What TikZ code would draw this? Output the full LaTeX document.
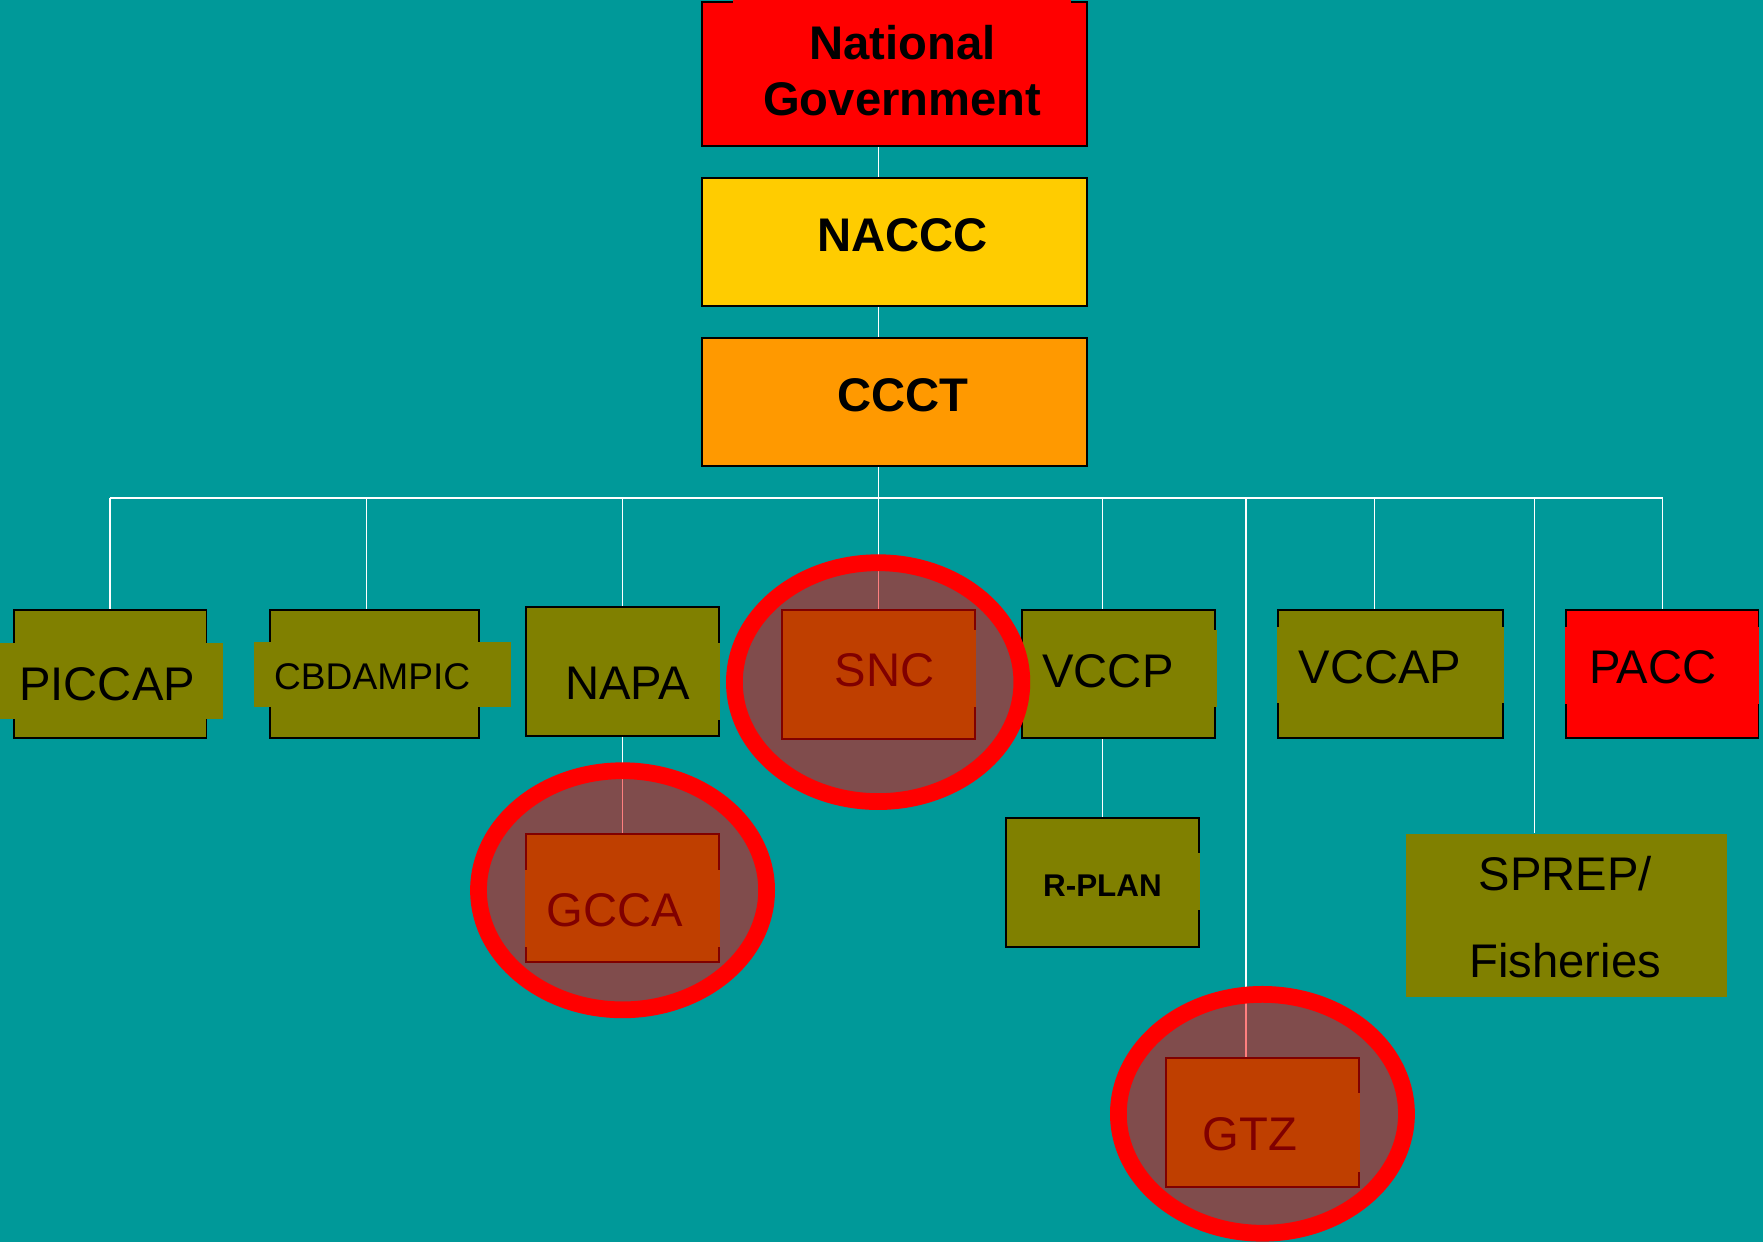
\documentclass[tikz,border=0pt]{standalone}
\usepackage{fontspec}
\setmainfont{Liberation Sans}

\definecolor{sea}{RGB}{0,153,153}
\definecolor{olivebox}{RGB}{128,128,0}
\definecolor{redbox}{RGB}{255,0,0}
\definecolor{yellowbox}{RGB}{255,204,0}
\definecolor{orangebox}{RGB}{255,153,0}

\tikzset{
	box/.style={draw=black, line width=0.9pt, fill=olivebox, inner sep=0pt,
		minimum width=3.43cm, minimum height=2.284cm},
	topbox/.style={box, minimum width=6.85cm, minimum height=2.275cm},
	txt/.style={inner sep=0pt, font=\fontsize{23.9}{28.45}\selectfont},
	bold/.style={txt, font=\fontsize{23.9}{28.45}\selectfont\bfseries},
	wire/.style={draw=white, line width=0.8pt},
	ring/.style={draw=redbox, line width=0.298cm, fill=redbox, fill opacity=0.5}
}

\begin{document}
\begin{tikzpicture}[x=0.02cm, y=-0.02cm]
	\useasboundingbox (0,0) rectangle (1568,1105);
	\fill[sea] (0,0) rectangle (1568,1105);
	
	% top of the chart
	\node[topbox, fill=redbox, minimum height=2.566cm] (gov) at (795.6,65.7) {};
	\node[topbox, fill=yellowbox] (naccc) at (795.6,215.2) {};
	\node[topbox, fill=orangebox] (ccct) at (795.6,357.5) {};
	
	% second row
	\node[box] (piccap) at (97.9,599.6) {};
	\node[box, minimum width=3.718cm] (cbdampic) at (333.1,599.6) {};
	\node[box] (napa) at (553.5,597.2) {};
	\node[box] (snc) at (781.3,599.9) {};
	\node[box] (vccp) at (994.8,599.6) {};
	\node[box, minimum width=3.99cm] (vccap) at (1236.7,599.6) {};
	\node[box, fill=redbox] (pacc) at (1478.3,599.6) {};
	
	% lower boxes
	\node[box] (gcca) at (553.5,798.7) {};
	\node[box] (rplan) at (980.6,784.9) {};
	\node[box] (gtz) at (1122.8,998.3) {};
	\node[box, draw=none, minimum width=5.716cm, minimum height=2.906cm] (sprep) at (1393.3,814.4) {};
	
	% text frames
	\foreach \xa/\ya/\xb/\yb/\col in {652/0/952.5/3.5/redbox, 0/571.6/198/639.7/olivebox,
		225.9/570.7/454.2/628.5/olivebox, 470/572/640.4/640.4/olivebox,
		697/560.3/868/628.5/olivebox, 910.5/560.3/1082/628.5/olivebox,
		1136/557.3/1337.5/625.5/olivebox, 1392/557.3/1564.5/626.1/redbox,
		467/773.7/640.2/842/olivebox, 1039/972.4/1209.6/1042/olivebox,
		896/759/1067.5/809/olivebox}
		\fill[\col] (\xa,\ya) rectangle (\xb,\yb);
	
	\node[bold, align=center] (gov-t) at (802.5,62.7) {National\\Government};
	\node[bold, anchor=base] (naccc-t) at (802.6,223.8) {NACCC};
	\node[bold, anchor=base] (ccct-t) at (802.9,366.1) {CCCT};
	\node[txt, anchor=base] (piccap-t) at (95.3,622.6) {PICCAP};
	\node[txt, anchor=base, font=\fontsize{18.8}{22}\selectfont] (cbdampic-t) at (331,613) {CBDAMPIC};
	\node[txt, anchor=base] (napa-t) at (558.3,622) {NAPA};
	\node[txt, anchor=base] (snc-t) at (786.8,610.7) {SNC};
	\node[txt, anchor=base] (vccp-t) at (985.4,611.3) {VCCP};
	\node[txt, anchor=base] (vccap-t) at (1227.3,608.3) {VCCAP};
	\node[txt, anchor=base] (pacc-t) at (1470,607.7) {PACC};
	\node[txt, anchor=base] (gcca-t) at (547,823.6) {GCCA};
	\node[txt, anchor=base] (gtz-t) at (1111.7,1023.4) {GTZ};
	\node[txt, anchor=base, font=\fontsize{15.9}{19}\selectfont\bfseries] (rplan-t) at (980.5,797) {R-PLAN};
	\node[txt, align=center, font=\fontsize{23.9}{43.8}\selectfont] (sprep-t) at (1392,815.8) {SPREP/\\Fisheries};
	
	% connectors
	\coordinate (d1) at (97.8,443);
	\coordinate (d2) at (326.1,443);
	\coordinate (d3) at (553.6,443);
	\coordinate (d4) at (781.5,443);
	\coordinate (d5) at (980.7,443);
	\coordinate (d6) at (1108.2,443);
	\coordinate (d7) at (1222.3,443);
	\coordinate (d8) at (1364.6,443);
	\coordinate (d9) at (1478.7,443);
	\draw[wire] (d1) -- (d9);
	\draw[wire] (d4 |- gov.south) -- (d4 |- naccc.north);
	\draw[wire] (d4 |- naccc.south) -- (d4 |- ccct.north);
	\draw[wire] (d4 |- ccct.south) -- (d4);
	\foreach \d/\n in {d1/piccap, d2/cbdampic, d3/napa, d4/snc, d5/vccp,
		d6/gtz, d7/vccap, d8/sprep, d9/pacc}
		\draw[wire] (\d) -- (\d |- \n.north);
	\draw[wire] (d3 |- napa.south) -- (d3 |- gcca.north);
	\draw[wire] (d5 |- vccp.south) -- (d5 |- rplan.north);
	
	% highlights
	\draw[ring] (781,606.7) ellipse [x radius=2.557cm, y radius=2.125cm];
	\draw[ring] (553.7,791.8) ellipse [x radius=2.563cm, y radius=2.127cm];
	\draw[ring] (1122.8,990.6) ellipse [x radius=2.563cm, y radius=2.125cm];
\end{tikzpicture}
\end{document}
